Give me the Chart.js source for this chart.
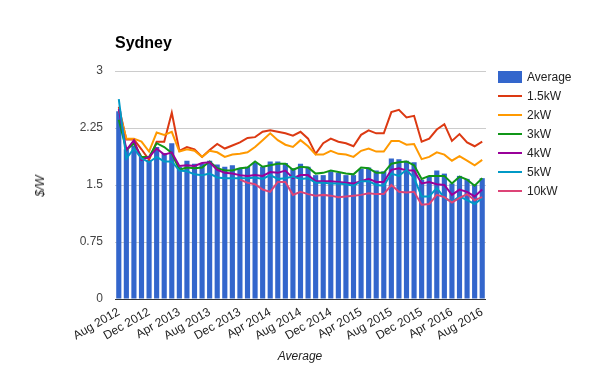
<!DOCTYPE html>
<html><head><meta charset="utf-8">
<script src="https://cdn.jsdelivr.net/npm/chart.js@4/dist/chart.umd.min.js"></script>
<style>
html,body{margin:0;padding:0;background:#fff;}
#wrap{position:relative;width:600px;height:371px;font-family:Arial,"Liberation Sans",sans-serif;}
#c{position:absolute;left:0;top:0;}
.t{position:absolute;white-space:nowrap;}
#title{left:115px;top:34px;font-size:16px;font-weight:bold;color:#000;}
#ytitle{left:40px;top:186px;font-size:12px;font-style:italic;color:#222;transform:translate(-50%,-50%) rotate(-90deg);}
#xtitle{left:300px;top:349px;font-size:12px;font-style:italic;color:#222;transform:translateX(-50%);}
#legend{position:absolute;left:498px;top:68px;font-size:12px;color:#222;}
.li{position:absolute;left:0;height:19px;width:100px;}
.sw{position:absolute;left:0;width:24px;}
.lt{position:absolute;left:29px;top:2px;}
</style></head>
<body><div id="wrap"><canvas id="c" width="600" height="371"></canvas>
<div class="t" id="title">Sydney</div>
<div class="t" id="ytitle">$/W</div>
<div class="t" id="xtitle">Average</div>
<div id="legend"></div>
</div>
<script>
const months = ["Aug 2012","Sep 2012","Oct 2012","Nov 2012","Dec 2012","Jan 2013","Feb 2013","Mar 2013","Apr 2013","May 2013","Jun 2013","Jul 2013","Aug 2013","Sep 2013","Oct 2013","Nov 2013","Dec 2013","Jan 2014","Feb 2014","Mar 2014","Apr 2014","May 2014","Jun 2014","Jul 2014","Aug 2014","Sep 2014","Oct 2014","Nov 2014","Dec 2014","Jan 2015","Feb 2015","Mar 2015","Apr 2015","May 2015","Jun 2015","Jul 2015","Aug 2015","Sep 2015","Oct 2015","Nov 2015","Dec 2015","Jan 2016","Feb 2016","Mar 2016","Apr 2016","May 2016","Jun 2016","Jul 2016","Aug 2016"];
const average = [2.47,1.97,2.02,1.88,1.83,2.00,1.92,2.05,1.74,1.82,1.78,1.78,1.82,1.77,1.74,1.76,1.72,1.74,1.79,1.74,1.81,1.81,1.79,1.72,1.78,1.74,1.63,1.63,1.68,1.66,1.63,1.63,1.71,1.73,1.69,1.68,1.85,1.84,1.82,1.80,1.57,1.61,1.69,1.65,1.52,1.62,1.58,1.50,1.59];
const kw1_5 = [2.53,2.10,2.10,1.97,1.83,2.07,2.07,2.45,1.95,2.00,1.97,1.87,1.96,2.04,1.98,2.02,2.06,2.12,2.13,2.20,2.22,2.20,2.18,2.15,2.20,2.11,1.91,2.05,2.11,2.07,2.05,2.01,2.16,2.22,2.18,2.18,2.46,2.49,2.39,2.41,2.07,2.11,2.23,2.30,2.08,2.17,2.06,2.01,2.07];
const kw2 = [2.49,2.11,2.11,2.07,1.94,2.19,2.16,2.20,1.94,1.97,1.95,1.87,1.95,1.93,1.87,1.90,1.91,1.93,2.00,2.09,2.18,2.09,2.03,2.00,2.09,2.01,1.90,1.90,1.95,1.91,1.90,1.87,1.95,1.98,1.94,1.94,2.08,2.08,2.03,2.04,1.84,1.87,1.93,1.90,1.82,1.88,1.82,1.76,1.83];
const kw3 = [2.36,1.96,2.05,1.87,1.87,2.05,2.00,1.92,1.70,1.73,1.72,1.73,1.81,1.72,1.69,1.69,1.72,1.73,1.81,1.74,1.76,1.78,1.78,1.70,1.74,1.73,1.65,1.66,1.69,1.67,1.65,1.64,1.73,1.72,1.66,1.66,1.78,1.80,1.81,1.76,1.58,1.62,1.62,1.62,1.52,1.61,1.57,1.49,1.59];
const kw4 = [2.50,1.96,2.09,1.83,1.87,1.98,1.90,1.93,1.75,1.76,1.75,1.79,1.80,1.70,1.66,1.65,1.63,1.62,1.63,1.62,1.67,1.66,1.69,1.59,1.63,1.63,1.55,1.55,1.55,1.54,1.53,1.52,1.55,1.58,1.54,1.54,1.70,1.72,1.69,1.69,1.52,1.54,1.51,1.50,1.37,1.44,1.41,1.35,1.44];
const kw5 = [2.63,1.85,1.98,1.85,1.80,1.87,1.81,1.81,1.69,1.68,1.64,1.63,1.65,1.60,1.59,1.59,1.59,1.59,1.60,1.58,1.63,1.58,1.59,1.61,1.58,1.59,1.53,1.53,1.52,1.52,1.51,1.49,1.55,1.55,1.50,1.49,1.65,1.62,1.70,1.59,1.35,1.35,1.46,1.33,1.28,1.35,1.30,1.25,1.33];
const kw10 = [null,null,null,null,null,null,null,null,null,null,null,null,null,null,null,null,1.57,1.53,1.51,1.44,1.41,1.54,1.54,1.37,1.41,1.38,1.36,1.37,1.36,1.34,1.35,1.36,1.37,1.39,1.38,1.38,1.50,1.41,1.40,1.41,1.24,1.25,1.37,1.34,1.27,1.33,1.38,1.30,1.34];
const yTicks = [0,0.75,1.5,2.25,3];

const lineSeries = [
  {label:"1.5kW", data:kw1_5, color:"#dc3912"},
  {label:"2kW", data:kw2, color:"#ff9900"},
  {label:"3kW", data:kw3, color:"#109618"},
  {label:"4kW", data:kw4, color:"#990099"},
  {label:"5kW", data:kw5, color:"#0099c6"},
  {label:"10kW", data:kw10, color:"#dd4477"}
];

const datasets = [{type:"bar", label:"Average", data:average, backgroundColor:"#3366cc", borderWidth:0, barPercentage:0.68, categoryPercentage:1, order:10}];
lineSeries.forEach((s,i)=>datasets.push({type:"line", label:s.label, data:s.data, borderColor:s.color, backgroundColor:s.color, borderWidth:2, pointRadius:0, tension:0, spanGaps:false, order:9-i}));

// legend
const lg = document.getElementById("legend");
const items = [{label:"Average", color:"#3366cc", box:true}].concat(lineSeries.map(s=>({label:s.label,color:s.color})));
items.forEach((it,i)=>{
  const d=document.createElement("div"); d.className="li"; d.style.top=(i*19)+"px";
  const sw=document.createElement("div"); sw.className="sw";
  sw.style.background=it.color;
  if(it.box){sw.style.top="3px";sw.style.height="12px";} else {sw.style.top="8px";sw.style.height="2px";}
  const t=document.createElement("div"); t.className="lt"; t.textContent=it.label;
  d.appendChild(sw); d.appendChild(t); lg.appendChild(d);
});

const baseline = {id:"baseline", afterDatasetsDraw(chart){
  const y=chart.scales.y.getPixelForValue(0); const a=chart.chartArea; const ctx=chart.ctx;
  ctx.save(); ctx.strokeStyle="#333"; ctx.lineWidth=1; ctx.beginPath(); ctx.moveTo(a.left,Math.round(y)+0.5); ctx.lineTo(a.right,Math.round(y)+0.5); ctx.stroke(); ctx.restore();
}};

new Chart(document.getElementById("c"), {
  data:{labels:months, datasets:datasets},
  plugins:[baseline],
  options:{
    responsive:false, animation:false,
    layout:{padding:{left:0,right:114,top:71,bottom:0}},
    plugins:{legend:{display:false}, tooltip:{enabled:false}},
    scales:{
      x:{type:"category", offset:true,
        grid:{display:false, drawTicks:false},
        border:{display:false},
        ticks:{autoSkip:false, minRotation:30, maxRotation:30, padding:6, color:"#222", font:{family:"Arial, 'Liberation Sans'", size:12},
          callback:function(v,i){return i%4===0?months[i]:"";}},
        afterFit:function(s){s.height=72;}
      },
      y:{min:0,max:3,
        afterBuildTicks:function(s){s.ticks=yTicks.map(v=>({value:v}));},
        grid:{color:"#cccccc", drawTicks:false},
        border:{display:false},
        ticks:{padding:12, color:"#444", font:{family:"Arial, 'Liberation Sans'", size:12},
          callback:function(v){return String(v);}},
        afterFit:function(s){s.width=115;}
      }
    }
  }
});
</script></body></html>
